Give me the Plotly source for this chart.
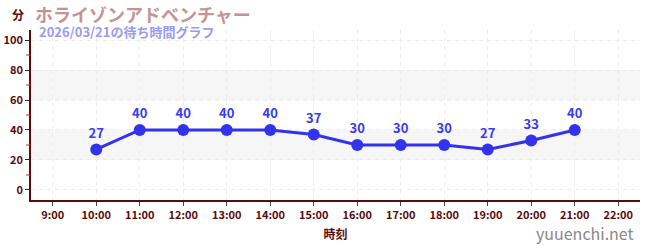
import plotly.graph_objects as go

hours = [10, 11, 12, 13, 14, 15, 16, 17, 18, 19, 20, 21]
waits = [27, 40, 40, 40, 40, 37, 30, 30, 30, 27, 33, 40]
tick_hours = list(range(9, 23))
tick_labels = [f"{h}:00" for h in tick_hours]
y_ticks = [0, 20, 40, 60, 80, 100]

FONT = "Noto Sans CJK JP"
DARK = "#5a0a0a"

fig = go.Figure()
fig.add_trace(go.Scatter(
    x=hours, y=waits, mode="lines+markers+text",
    text=[str(v) for v in waits], textposition="top center",
    textfont=dict(family=FONT, size=13, color="#3a3af0", weight="bold"),
    line=dict(color="#3333ee", width=3),
    marker=dict(color="#3333ee", size=12),
    cliponaxis=False, hoverinfo="skip"))

shapes = []
for lo, hi in [(20, 40), (60, 80)]:
    shapes.append(dict(type="rect", xref="paper", yref="y", x0=0, x1=1, y0=lo, y1=hi,
                       fillcolor="#f6f6f6", line=dict(width=0), layer="below"))
for v in [10, 30, 50, 70, 90]:
    shapes.append(dict(type="line", xref="paper", yref="y", x0=-0.008, x1=0, y0=v, y1=v,
                       line=dict(color="#dd2222", width=1)))

fig.update_layout(
    width=650, height=250,
    margin=dict(l=31, r=10, t=30, b=50),
    paper_bgcolor="white", plot_bgcolor="white",
    showlegend=False,
    shapes=shapes,
    font=dict(family=FONT, color=DARK),
    xaxis=dict(range=[8.5, 22.5], tickvals=tick_hours, ticktext=tick_labels,
               automargin=False,
               showgrid=True, gridcolor="#ececec", griddash="4px,4px", gridwidth=1,
               zeroline=False, showline=True, linecolor=DARK, linewidth=1.5,
               ticks="outside", ticklen=4, tickcolor="#444444",
               tickfont=dict(family=FONT, size=11, color=DARK, weight="bold"),
               title=dict(text="時刻", font=dict(family=FONT, size=12, color=DARK, weight="bold"), standoff=10)),
    yaxis=dict(range=[-6.7, 106.7], tickvals=y_ticks, automargin=False,
               showgrid=True, gridcolor="#ececec", griddash="4px,4px", gridwidth=1,
               zeroline=False, showline=True, linecolor=DARK, linewidth=1.5,
               ticks="outside", ticklen=4, tickcolor="#222222",
               tickfont=dict(family=FONT, size=11, color=DARK, weight="bold")),
    annotations=[
        dict(text="分", xref="paper", yref="paper", x=0, y=1, xshift=-13, yshift=16,
             xanchor="center", yanchor="middle", showarrow=False,
             font=dict(family=FONT, size=12, color=DARK, weight="bold")),
        dict(text="ホライゾンアドベンチャー", xref="paper", yref="paper", x=0, y=1,
             xshift=2, yshift=16, xanchor="left", yanchor="middle", showarrow=False,
             font=dict(family=FONT, size=18, color="#c49494", weight="bold")),
        dict(text="2026/03/21の待ち時間グラフ", xref="paper", yref="paper", x=0, y=1,
             xshift=6, yshift=-1, xanchor="left", yanchor="middle", showarrow=False,
             font=dict(family=FONT, size=13, color="#9a9af5", weight="bold")),
        dict(text="yuuenchi.net", xref="paper", yref="paper", x=1, y=0,
             xshift=-4, yshift=-33, xanchor="right", yanchor="middle", showarrow=False,
             font=dict(family=FONT, size=16, color="#888888")),
    ],
)

fig.write_html("out.html")
